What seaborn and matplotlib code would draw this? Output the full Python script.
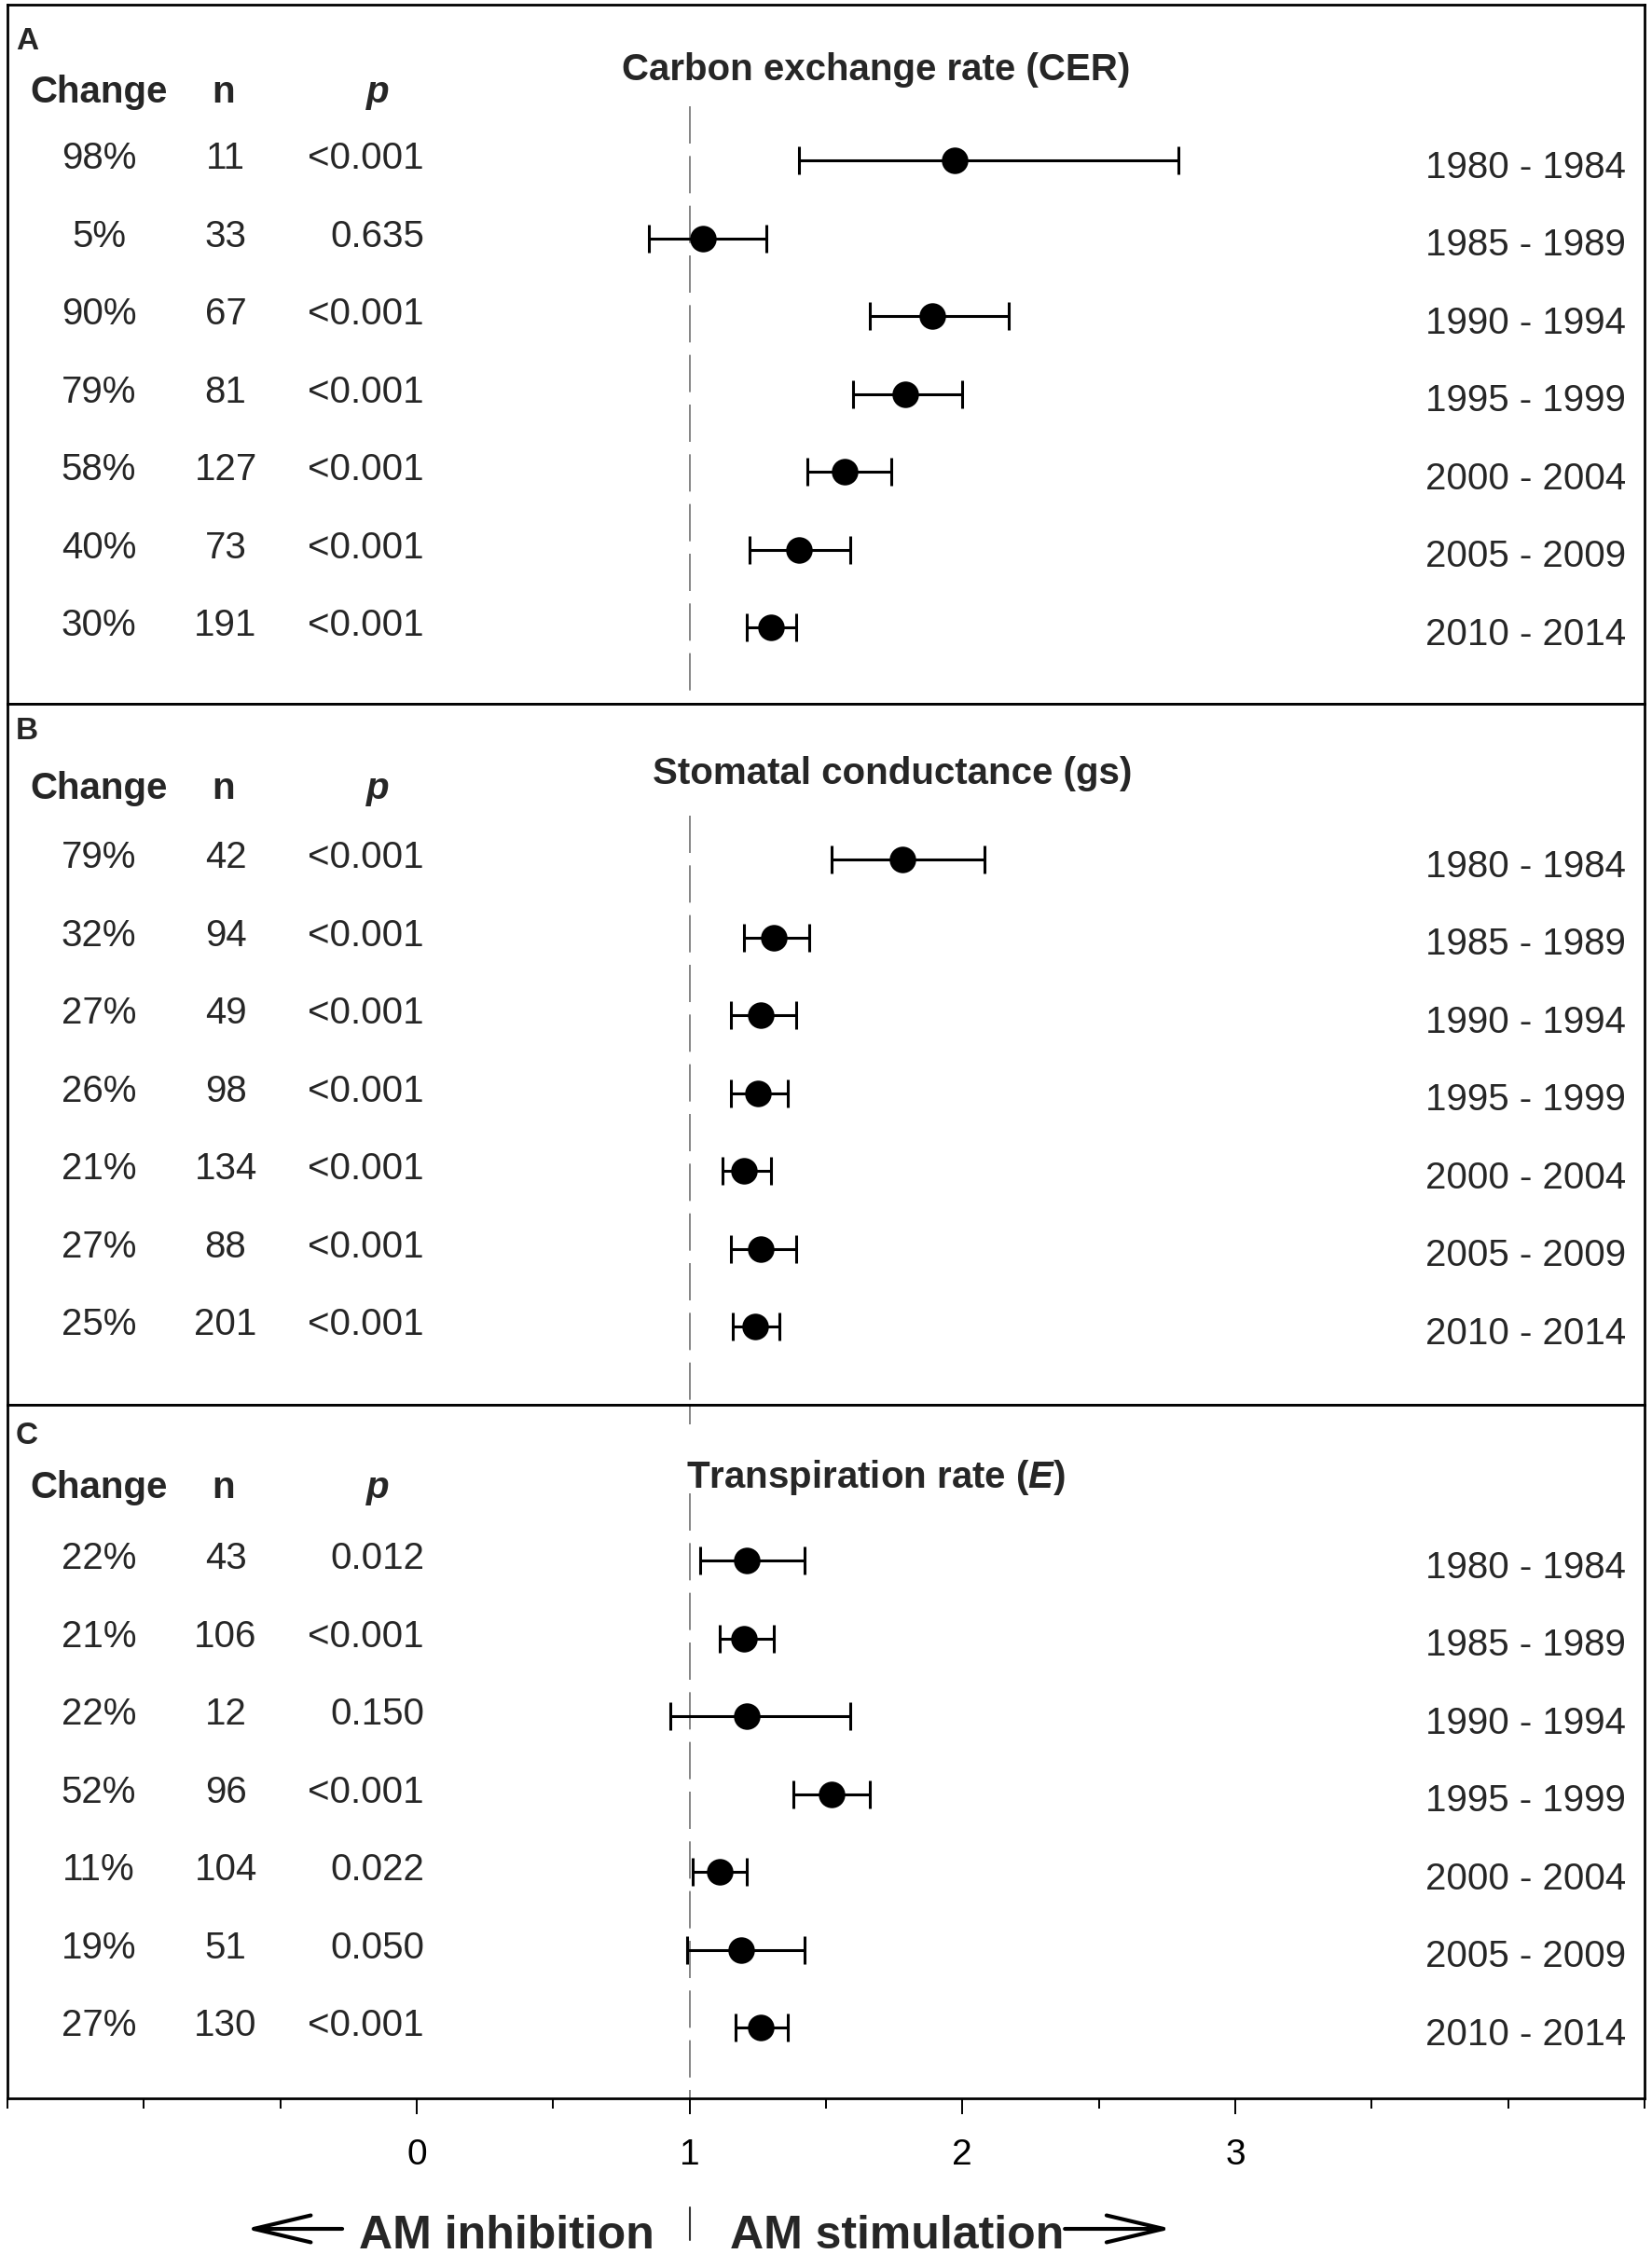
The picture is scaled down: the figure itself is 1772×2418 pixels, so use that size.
import matplotlib
matplotlib.use("Agg")
import matplotlib.pyplot as plt
import seaborn as sns
import numpy as np
import pandas as pd
from matplotlib import transforms
from matplotlib.lines import Line2D
from matplotlib.ticker import FixedLocator

# ---------------- data ----------------
years = ["1980 - 1984", "1985 - 1989", "1990 - 1994", "1995 - 1999",
         "2000 - 2004", "2005 - 2009", "2010 - 2014"]

cer_mean = [1.97, 1.05, 1.89, 1.79, 1.57, 1.40, 1.30]
cer_lo = [1.40, 0.85, 1.66, 1.60, 1.43, 1.22, 1.21]
cer_hi = [2.79, 1.28, 2.17, 2.00, 1.74, 1.59, 1.39]
cer_change = ["98%", "5%", "90%", "79%", "58%", "40%", "30%"]
cer_n = ["11", "33", "67", "81", "127", "73", "191"]
cer_p = ["<0.001", "0.635", "<0.001", "<0.001", "<0.001", "<0.001", "<0.001"]

gs_mean = [1.78, 1.31, 1.26, 1.25, 1.20, 1.26, 1.24]
gs_lo = [1.52, 1.20, 1.15, 1.15, 1.12, 1.15, 1.16]
gs_hi = [2.08, 1.44, 1.39, 1.36, 1.30, 1.39, 1.33]
gs_change = ["79%", "32%", "27%", "26%", "21%", "27%", "25%"]
gs_n = ["42", "94", "49", "98", "134", "88", "201"]
gs_p = ["<0.001", "<0.001", "<0.001", "<0.001", "<0.001", "<0.001", "<0.001"]

e_mean = [1.21, 1.20, 1.21, 1.52, 1.11, 1.19, 1.26]
e_lo = [1.04, 1.11, 0.93, 1.38, 1.01, 0.99, 1.17]
e_hi = [1.42, 1.31, 1.59, 1.66, 1.21, 1.42, 1.36]
e_change = ["22%", "21%", "22%", "52%", "11%", "19%", "27%"]
e_n = ["43", "106", "12", "96", "104", "51", "130"]
e_p = ["0.012", "<0.001", "0.150", "<0.001", "0.022", "0.050", "<0.001"]

panel_letters = ["A", "B", "C"]
panel_titles = ["Carbon exchange rate (CER)", "Stomatal conductance (gs)",
                "Transpiration rate ($E$)"]
col_headers = ["Change", "n", "p"]
x_ticks = [0, 1, 2, 3]
bottom_labels = ["AM inhibition", "AM stimulation"]

panels = [
    (cer_mean, cer_lo, cer_hi, cer_change, cer_n, cer_p),
    (gs_mean, gs_lo, gs_hi, gs_change, gs_n, gs_p),
    (e_mean, e_lo, e_hi, e_change, e_n, e_p),
]

# ---------------- style ----------------
sns.set_theme(style="white")
plt.rcParams['font.family'] = ['Liberation Sans', 'DejaVu Sans']
plt.rcParams['mathtext.fontset'] = 'custom'
plt.rcParams['mathtext.it'] = 'Liberation Sans:style=italic:weight=bold'
plt.rcParams['mathtext.rm'] = 'Liberation Sans:weight=bold'
plt.rcParams['mathtext.bf'] = 'Liberation Sans:weight=bold'

W, H = 1772, 2418
fig = plt.figure(figsize=(W / 100, H / 100), dpi=100)

L_PX, R_PX = 8, 1764
ROW_PX = 83.5
bounds = [(5, 755), (755, 1507), (1507, 2251)]
title_y = [0.80, 0.86, 0.89]
title_x = [940, 957, 940]
header_y = [1.09, 1.05, 1.03]
letter_y = [0.43, 0.31, 0.36]
dash_start = [1.30, 1.44, 1.14]

FS = 29
LFS = 24
cap_half = 0.716 * FS / 0.72 / 2 / ROW_PX   # half cap height in row units


def xf(px):
    return (px - L_PX) / (R_PX - L_PX)


axes = []
for k, (mean, lo, hi, chg, nn, pp) in enumerate(panels):
    top, bot = bounds[k]
    ax = fig.add_axes([L_PX / W, 1 - bot / H, (R_PX - L_PX) / W, (bot - top) / H])
    axes.append(ax)
    ymax = (bot - top) / ROW_PX
    ax.set_xlim(-1.5, 4.5)
    ax.set_ylim(ymax, 0)

    df = pd.DataFrame({"year": years, "mean": mean, "lo": lo, "hi": hi,
                       "row": np.arange(len(years)) + 2.0})

    # reference line at 1
    ax.vlines(1, dash_start[k], ymax, colors='#6f6f6f', lw=1.2,
              linestyles=[(0, (24, 8))], zorder=1)
    if k == 2:
        ax.vlines(1, 0, 0.25, colors='#6f6f6f', lw=1.2, zorder=1)

    ax.errorbar(df["mean"], df["row"],
                xerr=[df["mean"] - df["lo"], df["hi"] - df["mean"]],
                fmt='none', ecolor='black', elinewidth=2.2, capsize=11,
                capthick=2.2, zorder=2)
    sns.scatterplot(data=df, x="mean", y="row", ax=ax, s=420, color='black',
                    edgecolor='black', linewidth=0, zorder=3, legend=False)
    ax.set_xlabel("")
    ax.set_ylabel("")
    ax.set_yticks([])

    for sp in ax.spines.values():
        sp.set_visible(True)
        sp.set_color('black')
        sp.set_linewidth(2.0)

    trans = ax.get_yaxis_transform()  # x: axes fraction, y: data
    # panel letter
    ax.text(xf(17), letter_y[k] + 0.716 * LFS / 0.72 / 2 / ROW_PX, panel_letters[k],
            transform=trans, fontsize=LFS, fontweight='bold', ha='left', va='baseline')
    # title
    ax.text(xf(title_x[k]), title_y[k] + cap_half, panel_titles[k], transform=trans,
            fontsize=FS, fontweight='bold', ha='center', va='baseline')
    # headers
    ax.text(xf(106), header_y[k] + cap_half, col_headers[0], transform=trans,
            fontsize=FS, fontweight='bold', ha='center', va='baseline')
    ax.text(xf(240), header_y[k] + cap_half, col_headers[1], transform=trans,
            fontsize=FS, fontweight='bold', ha='center', va='baseline')
    ax.text(xf(405), header_y[k] + cap_half, col_headers[2], transform=trans,
            fontsize=FS, fontweight='bold', fontstyle='italic', ha='center', va='baseline')
    # rows
    for i, r in enumerate(df["row"]):
        yb = r + cap_half - 0.06
        ax.text(xf(106), yb, chg[i], transform=trans, fontsize=FS, ha='center', va='baseline')
        ax.text(xf(242), yb, nn[i], transform=trans, fontsize=FS, ha='center', va='baseline')
        ax.text(xf(455), yb, pp[i], transform=trans, fontsize=FS, ha='right', va='baseline')
        ax.text(xf(1744), r + cap_half + 0.05, years[i], transform=trans, fontsize=FS,
                ha='right', va='baseline')

    if k < 2:
        ax.set_xticks([])
        ax.tick_params(bottom=False, left=False)
    else:
        ax.set_xticks(x_ticks)
        ax.set_xticklabels([str(t) for t in x_ticks])
        minor = [v for v in np.arange(-1.5, 4.51, 0.5) if v not in x_ticks]
        ax.xaxis.set_minor_locator(FixedLocator(minor))
        ax.tick_params(axis='x', which='major', bottom=True, direction='out',
                       length=12, width=1.4, color='black', labelsize=28, pad=19,
                       labelcolor='black')
        ax.tick_params(axis='x', which='minor', bottom=True, direction='out',
                       length=8, width=1.4, color='black')
        ax.tick_params(left=False)

# ---------------- bottom annotation ----------------
axC = axes[2]
btrans = transforms.blended_transform_factory(axC.transData, fig.transFigure)


def fy(py):
    return 1 - py / H


def dx(px):
    return 1 + (px - 742) / 293.0


BFS = 36
base_y = fy(2412)
axC.text(dx(704), base_y, bottom_labels[0], transform=btrans, fontsize=BFS,
         fontweight='bold', ha='right', va='baseline', clip_on=False)
axC.text(dx(785), base_y, bottom_labels[1], transform=btrans, fontsize=BFS,
         fontweight='bold', ha='left', va='baseline', clip_on=False)
fig.add_artist(Line2D([1, 1], [fy(2368), fy(2403)], transform=btrans,
                      color='#333333', lw=1.5))

arrow_kw = dict(arrowstyle='->,head_length=2.2,head_width=0.52', lw=3.0,
                color='black', shrinkA=0, shrinkB=0, mutation_scale=20)
axC.annotate('', xy=(dx(265), fy(2391)), xytext=(dx(369), fy(2391)),
             xycoords=btrans, textcoords=btrans, arrowprops=arrow_kw,
             annotation_clip=False)
axC.annotate('', xy=(dx(1260), fy(2391)), xytext=(dx(1145), fy(2391)),
             xycoords=btrans, textcoords=btrans, arrowprops=arrow_kw,
             annotation_clip=False)

fig.savefig("out.png", dpi=100, facecolor='white')
